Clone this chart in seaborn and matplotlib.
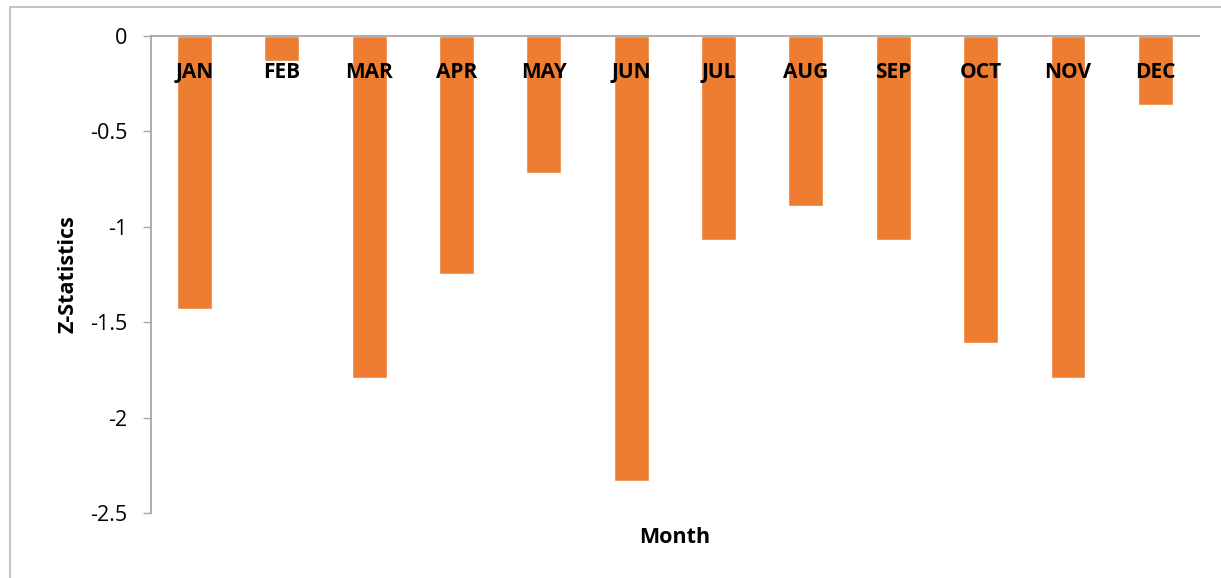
import matplotlib
matplotlib.use("Agg")
import matplotlib.pyplot as plt
from matplotlib.patches import Rectangle
from matplotlib.ticker import FixedLocator, FuncFormatter
import seaborn as sns
import pandas as pd

# Monthly Z-statistics
months = ["JAN", "FEB", "MAR", "APR", "MAY", "JUN",
          "JUL", "AUG", "SEP", "OCT", "NOV", "DEC"]
z_values = [-1.43, -0.13, -1.79, -1.25, -0.72, -2.33,
            -1.07, -0.89, -1.07, -1.61, -1.79, -0.36]
y_ticks = [0, -0.5, -1, -1.5, -2, -2.5]

sns.set_theme(style="white")
plt.rcParams["font.family"] = ["Open Sans", "DejaVu Sans"]
plt.rcParams["axes.unicode_minus"] = False
plt.rcParams["text.color"] = "black"

df = pd.DataFrame({"Month": months, "Z": z_values})

fig = plt.figure(figsize=(12.21, 5.78), dpi=100)
ax = fig.add_axes([0.1235, 0.1125, 0.982 - 0.1235, 0.9377 - 0.1125])

# outer chart-area border
fig.patches.append(Rectangle((0.0082, -0.02), 1.05, 0.9879 + 0.02,
                             transform=fig.transFigure, fill=False,
                             edgecolor="#BFBFBF", linewidth=1.3, zorder=0))

sns.barplot(data=df, x="Month", y="Z", color="#ED7D31", width=0.4,
            saturation=1, ax=ax)
ax.set_axisbelow(False)

ax.set_ylim(-2.5, 0)
ax.set_xlim(-0.5, len(months) - 0.5)

grey = "#A6A6A6"
for side in ("bottom", "right"):
    ax.spines[side].set_visible(False)
for side in ("top", "left"):
    ax.spines[side].set_color(grey)
    ax.spines[side].set_linewidth(1.3)

ax.yaxis.set_major_locator(FixedLocator(y_ticks))
ax.yaxis.set_major_formatter(FuncFormatter(lambda v, p: "%g" % v))
ax.tick_params(axis="y", left=True, length=6, width=1.0, color=grey,
               pad=11, labelsize=15.5, labelcolor="black")

# month labels sit just below the zero line
ax.xaxis.set_ticks_position("top")
ax.tick_params(axis="x", top=False, bottom=False, labeltop=True,
               labelbottom=False, length=0, pad=-34, labelsize=15,
               labelcolor="black")
plt.setp(ax.get_xticklabels(), fontweight="bold")

ax.xaxis.set_label_position("bottom")
ax.set_xlabel("Month", fontsize=15.5, fontweight="bold", labelpad=10,
              color="black")
ax.set_ylabel("Z-Statistics", fontsize=15.5, fontweight="bold", labelpad=8,
              color="black")

fig.savefig("out.png", dpi=100, facecolor="white")
